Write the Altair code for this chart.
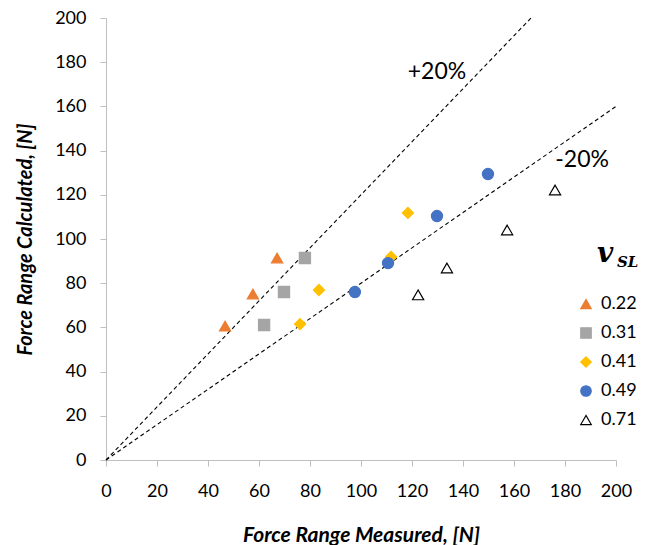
import altair as alt
import pandas as pd

series = ["0.22", "0.31", "0.41", "0.49", "0.71"]
meas_022 = [46.7, 57.6, 67.1]
calc_022 = [60.6, 75.1, 91.4]
meas_031 = [62.0, 69.8, 78.0]
calc_031 = [61.1, 76.0, 91.4]
meas_041 = [76.1, 83.5, 111.8, 118.4]
calc_041 = [61.5, 76.9, 91.9, 111.8]
meas_049 = [97.6, 110.6, 129.8, 149.8]
calc_049 = [76.0, 89.1, 110.4, 129.4]
meas_071 = [122.4, 133.7, 157.3, 176.1]
calc_071 = [74.7, 86.9, 104.1, 122.2]

fills = ["#ED7D31", "#A5A5A5", "#FFC000", "#4472C4", "#FFFFFF"]
strokes = ["#ED7D31", "#A5A5A5", "#FFC000", "#4472C4", "#000000"]
shapes = ["triangle-up", "square", "diamond", "circle", "triangle-up"]

rows = []
for s, mx, cy in zip(series,
                     [meas_022, meas_031, meas_041, meas_049, meas_071],
                     [calc_022, calc_031, calc_041, calc_049, calc_071]):
    for a, b in zip(mx, cy):
        rows.append({"series": s, "meas": a, "calc": b})
df = pd.DataFrame(rows)

# reference lines (+20% / -20%)
line_names = ["+20%", "+20%", "-20%", "-20%"]
line_x = [0, 166.67, 0, 200]
line_y = [0, 200, 0, 160]
lines_df = pd.DataFrame({"line": line_names, "x": line_x, "y": line_y})

label_text = ["+20%", "-20%"]
label_x = [129.8, 186.7]
label_y = [175.6, 135.7]
labels_df = pd.DataFrame({"t": label_text, "x": label_x, "y": label_y})

FONT = "Lato"
xscale = alt.Scale(domain=[0, 200], nice=False)
yscale = alt.Scale(domain=[0, 200], nice=False)

axis_common = dict(
    values=list(range(0, 201, 20)), grid=False, domainColor="#BFBFBF",
    tickColor="#BFBFBF", tickSize=6, labelFont=FONT, labelFontSize=18,
    labelColor="#000000", titleFont=FONT, labelFlush=False, labelOverlap=False,
    titleFontWeight="bold", titleFontStyle="italic", titleColor="#000000",
)

lines = alt.Chart(lines_df).mark_line(
    color="black", strokeDash=[4, 3], strokeWidth=1.1
).encode(
    x=alt.X("x:Q", scale=xscale,
            axis=alt.Axis(title="Force Range Measured, [N]", labelPadding=16,
                          titlePadding=24, titleFontSize=21, **axis_common)),
    y=alt.Y("y:Q", scale=yscale,
            axis=alt.Axis(title="Force Range Calculated, [N]", labelPadding=14,
                          titlePadding=19, titleFontSize=20, **axis_common)),
    detail="line:N",
)

points = alt.Chart(df).mark_point(filled=True, size=125, opacity=1, strokeWidth=1.2).encode(
    x=alt.X("meas:Q", scale=xscale),
    y=alt.Y("calc:Q", scale=yscale),
    shape=alt.Shape("series:N", scale=alt.Scale(domain=series, range=shapes),
                    legend=alt.Legend(title=None)),
    fill=alt.Fill("series:N", scale=alt.Scale(domain=series, range=fills),
                  legend=alt.Legend(title=None)),
    stroke=alt.Stroke("series:N", scale=alt.Scale(domain=series, range=strokes),
                      legend=alt.Legend(title=None)),
)

labels = alt.Chart(labels_df).mark_text(font=FONT, fontSize=23, color="black").encode(
    x=alt.X("x:Q", scale=xscale), y=alt.Y("y:Q", scale=yscale), text="t:N"
)

title_v = alt.Chart(pd.DataFrame({"t": ["v"]})).mark_text(
    font="DejaVu Serif", fontSize=28, fontWeight="bold", fontStyle="italic",
    align="left", baseline="alphabetic", color="black"
).encode(x=alt.value(491), y=alt.value(244), text="t:N")
title_sl = alt.Chart(pd.DataFrame({"t": ["SL"]})).mark_text(
    font="DejaVu Serif", fontSize=15, fontWeight="bold", fontStyle="italic",
    align="left", baseline="alphabetic", color="black"
).encode(x=alt.value(511), y=alt.value(249), text="t:N")

chart = alt.layer(lines, points, labels, title_v, title_sl).properties(
    width=510, height=442,
    autosize=alt.AutoSizeParams(type="none"),
    padding={"left": 106, "top": 18, "right": 35, "bottom": 85},
).configure_view(stroke=None).configure_legend(
    orient="none", legendX=471, legendY=277, labelFont=FONT, labelFontSize=18,
    labelColor="#000000", symbolSize=110, rowPadding=11, symbolStrokeWidth=1.2,
    labelOffset=6,
)

chart.save("out.html", embed_options={"renderer": "svg", "actions": False})
